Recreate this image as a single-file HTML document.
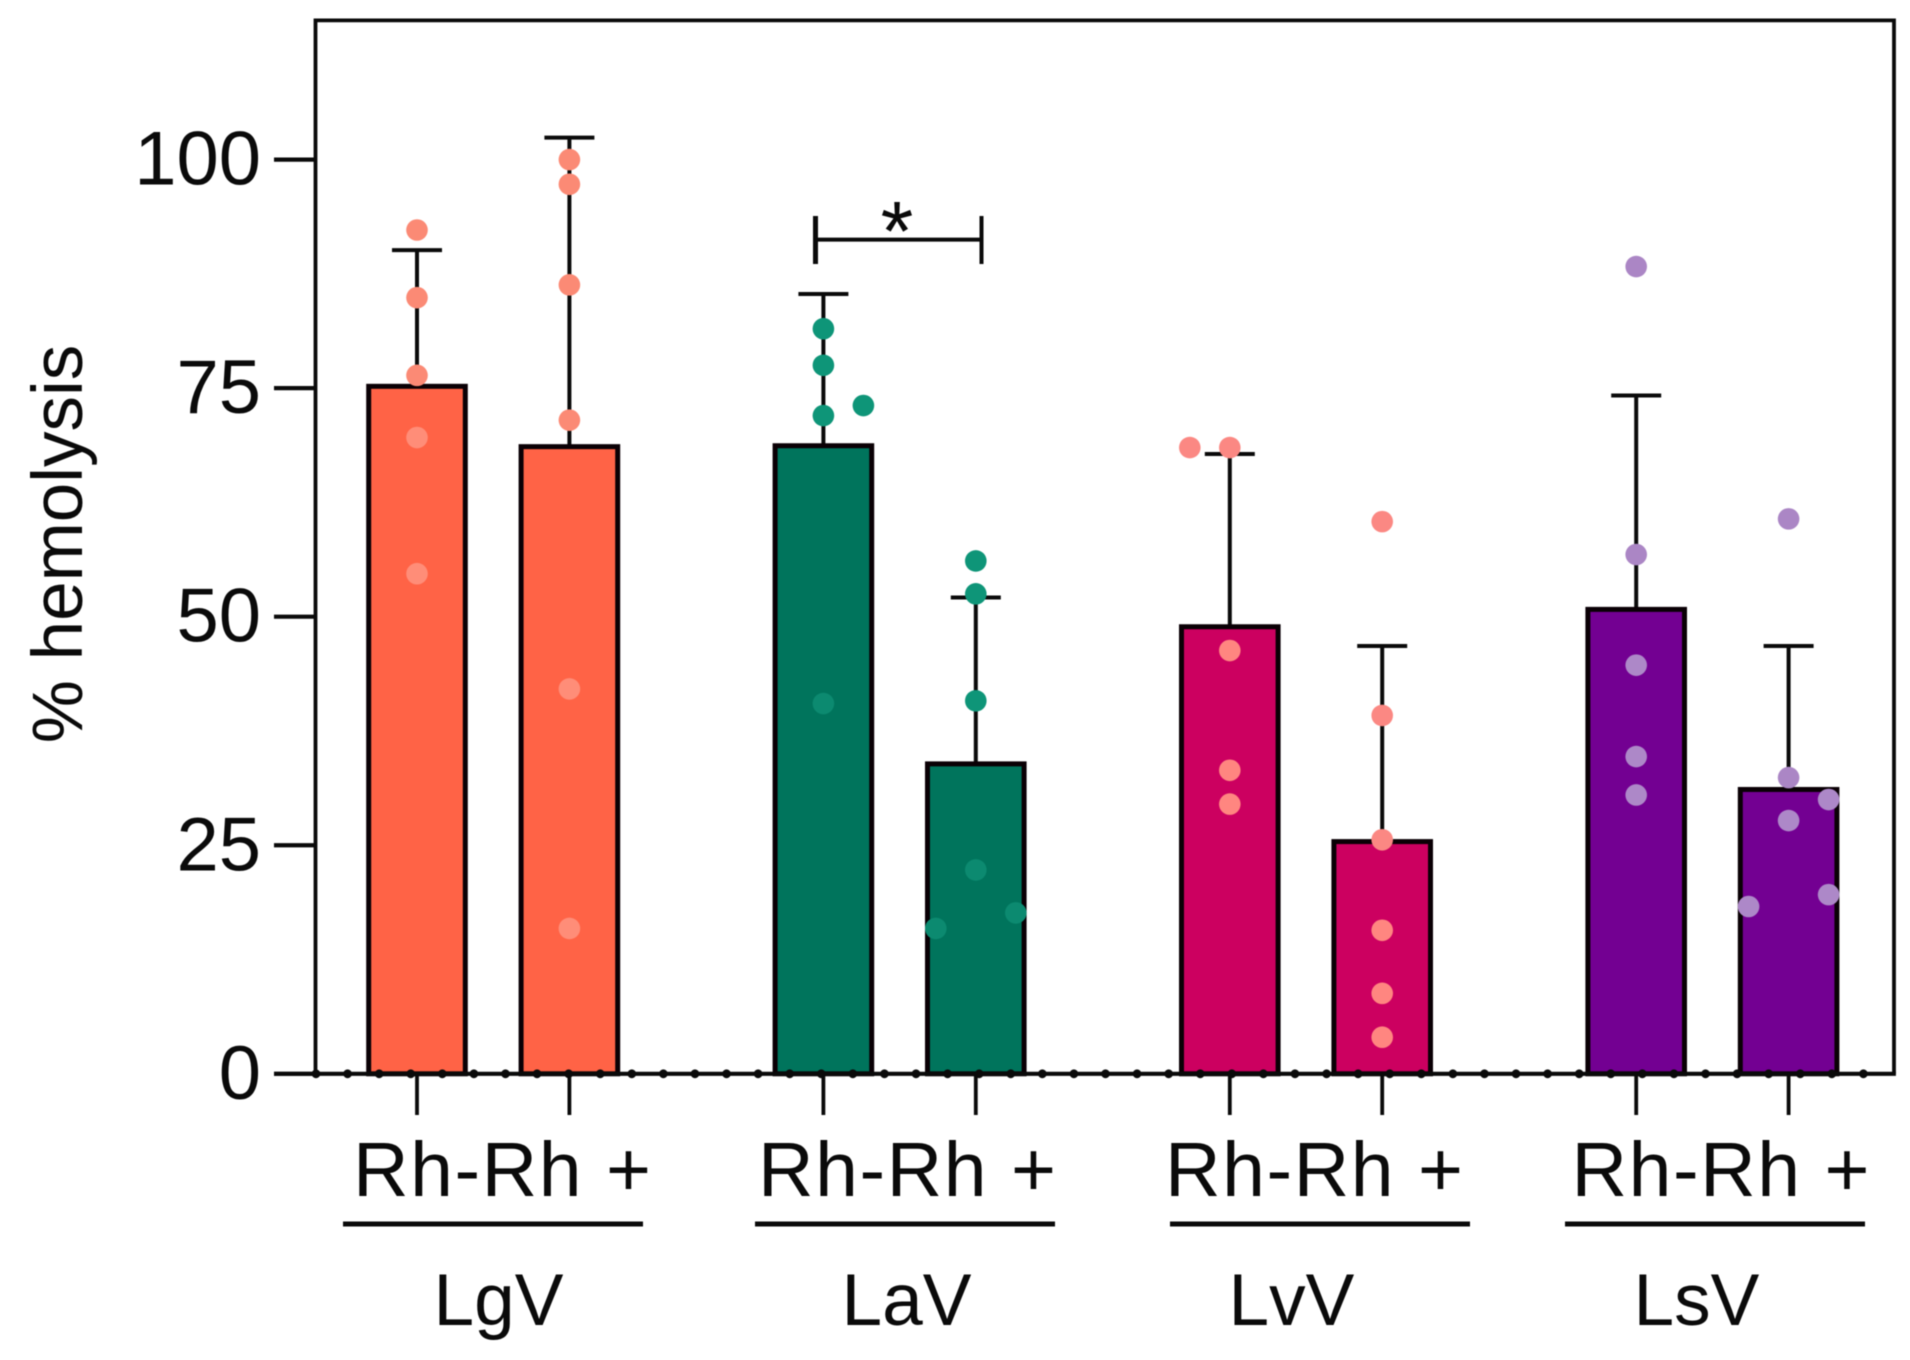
<!DOCTYPE html>
<html lang="en">
<head>
<meta charset="utf-8">
<title>% hemolysis bar chart</title>
<style>
html,body{margin:0;padding:0;background:#fff;}
svg{display:block;filter:blur(0.5px);}
text{font-family:"Liberation Sans",Arial,sans-serif;fill:#0a0a0a;}
</style>
</head>
<body>
<svg id="chart" xmlns="http://www.w3.org/2000/svg" width="1910" height="1360" viewBox="0 0 1910 1360">
  <rect x="0" y="0" width="1910" height="1360" fill="#ffffff"/>
  <g id="marks"></g>
  <g id="axes"></g>
  <g id="points"></g>

  <text transform="translate(82,544) rotate(-90)" text-anchor="middle" font-size="71">% hemolysis</text>

  <g stroke="#0a0a0a" fill="none">
    <line x1="815.5" y1="216" x2="815.5" y2="264" stroke-width="5"/>
    <line x1="981.5" y1="216" x2="981.5" y2="264" stroke-width="4"/>
    <line x1="815.5" y1="239.6" x2="981.5" y2="239.6" stroke-width="4"/>
  </g>
  <text x="897" y="260" text-anchor="middle" font-size="84">*</text>

  <g>
    <text x="353" y="1196" font-size="77" textLength="298" lengthAdjust="spacing">Rh-Rh +</text>
    <text x="758" y="1196" font-size="77" textLength="298" lengthAdjust="spacing">Rh-Rh +</text>
    <text x="1165" y="1196" font-size="77" textLength="298" lengthAdjust="spacing">Rh-Rh +</text>
    <text x="1571.5" y="1196" font-size="77" textLength="298" lengthAdjust="spacing">Rh-Rh +</text>
    <rect x="343" y="1221.5" width="300" height="5" fill="#0a0a0a"/>
    <rect x="755" y="1221.5" width="300" height="5" fill="#0a0a0a"/>
    <rect x="1170" y="1221.5" width="300" height="5" fill="#0a0a0a"/>
    <rect x="1565" y="1221.5" width="300" height="5" fill="#0a0a0a"/>
    <text x="433.5" y="1325" font-size="73">LgV</text>
    <text x="841.5" y="1325" font-size="73">LaV</text>
    <text x="1228.5" y="1325" font-size="73">LvV</text>
    <text x="1633.5" y="1325" font-size="73">LsV</text>
  </g>
</svg>

<script>
// Chart data
const groups = ["LgV", "LaV", "LvV", "LsV"];
const treatments = ["Rh-", "Rh+"];
const yTicks = [0, 25, 50, 75, 100];

const barMeans = [
  [75.2, 68.6],
  [68.7, 33.9],
  [48.9, 25.4],
  [50.8, 31.1]
];
const errorTops = [
  [90.1, 102.4],
  [85.3, 52.1],
  [67.8, 46.8],
  [74.2, 46.8]
];
const pointValues = [
  [[92.3, 84.9, 76.4, 69.6, 54.7], [100, 97.3, 86.3, 71.5, 42.1, 15.9]],
  [[81.5, 77.5, 72, 40.5, 73.1], [56.1, 52.5, 40.8, 22.3, 15.9, 17.6]],
  [[68.5, 68.5, 46.3, 33.2, 29.5], [60.4, 39.2, 25.6, 15.7, 8.8, 4]],
  [[88.3, 56.8, 44.7, 34.7, 30.5], [60.7, 32.4, 27.7, 30, 19.6, 18.3]]
];
// Beeswarm column of each point: -1 left, 0 centre, 1 right
const pointColumns = [
  [[0, 0, 0, 0, 0], [0, 0, 0, 0, 0, 0]],
  [[0, 0, 0, 0, 1], [0, 0, 0, 0, -1, 1]],
  [[-1, 0, 0, 0, 0], [0, 0, 0, 0, 0, 0]],
  [[0, 0, 0, 0, 0], [0, 0, 0, 1, 1, -1]]
];
const barColors = ["#ff6346", "#00745c", "#cc0060", "#730092"];
const pointColorsOutside = ["#fb8a75", "#0e9578", "#fb8883", "#ab86c5"];
const pointColorsInside = ["#ff8d78", "#0c8a70", "#ff8680", "#ad88c8"];

// Axis functions
const Y_ZERO = 1073.8;
const Y_PER_UNIT = 9.142;
function yScale(v) { return Y_ZERO - v * Y_PER_UNIT; }
function xScale(g, b) { return 417 + g * 406.4 + b * 152.4; }
function columnOffset(c) { return c * 40; }

const NS = "http://www.w3.org/2000/svg";
const INK = "#0a0a0a";
function make(tag, attrs, parent) {
  const el = document.createElementNS(NS, tag);
  for (const k in attrs) el.setAttribute(k, attrs[k]);
  parent.appendChild(el);
  return el;
}

const marks = document.getElementById("marks");
const axes = document.getElementById("axes");
const pointsLayer = document.getElementById("points");

// Error bars and bars
groups.forEach(function (group, g) {
  treatments.forEach(function (treatment, b) {
    const cx = xScale(g, b);
    const key = group.toLowerCase() + "-" + (b === 0 ? "rh-minus" : "rh-plus");

    const stem = make("line", { x1: cx, x2: cx, y1: yScale(barMeans[g][b]), y2: yScale(errorTops[g][b]), stroke: INK, "stroke-width": 4 }, marks);
    
    

    const cap = make("line", { x1: cx - 25, x2: cx + 25, y1: yScale(errorTops[g][b]), y2: yScale(errorTops[g][b]), stroke: INK, "stroke-width": 4 }, marks);
    
    

    const bar = make("rect", { x: cx - 48.3, width: 96.6, y: yScale(barMeans[g][b]), height: yScale(0) - yScale(barMeans[g][b]), fill: barColors[g], stroke: "#0a0005", "stroke-width": 5 }, marks);
    
    
  });
});

// Plot frame
const frame = make("path", { d: "M315.5 " + yScale(0) + " V20.4 H1894 V" + yScale(0), fill: "none", stroke: INK, "stroke-width": 3.8 }, axes);



// Baseline
const baseline = make("line", { x1: 274, x2: 1895.9, y1: yScale(0), y2: yScale(0), stroke: INK, "stroke-width": 4.2 }, axes);



// Y ticks and labels
yTicks.forEach(function (t) {
  const tick = make("line", { x1: 274, x2: 316, y1: yScale(t), y2: yScale(t), stroke: INK, "stroke-width": 4.2 }, axes);
  
  

  const label = make("text", { x: 261, y: yScale(t) + 25, "text-anchor": "end", "font-size": 76 }, axes);
  label.textContent = String(t);
  
  
});

// X ticks
groups.forEach(function (group, g) {
  treatments.forEach(function (treatment, b) {
    const tick = make("line", { x1: xScale(g, b), x2: xScale(g, b), y1: yScale(0), y2: 1115, stroke: INK, "stroke-width": 3.8 }, axes);
    
    
  });
});

// Small dots along the baseline
for (let k = 0; k < 50; k++) {
  const dot = make("circle", { cx: 316 + k * 31.58, cy: yScale(0), r: 4.4, fill: INK }, axes);
  
  
}

// Data points
groups.forEach(function (group, g) {
  treatments.forEach(function (treatment, b) {
    pointValues[g][b].forEach(function (v, i) {
      const inside = v < barMeans[g][b] - 1;
      const pt = make("circle", {
        cx: xScale(g, b) + columnOffset(pointColumns[g][b][i]),
        cy: yScale(v),
        r: 10.8,
        fill: inside ? pointColorsInside[g] : pointColorsOutside[g]
      }, pointsLayer);
      
      
    });
  });
});
</script>
</body>
</html>
